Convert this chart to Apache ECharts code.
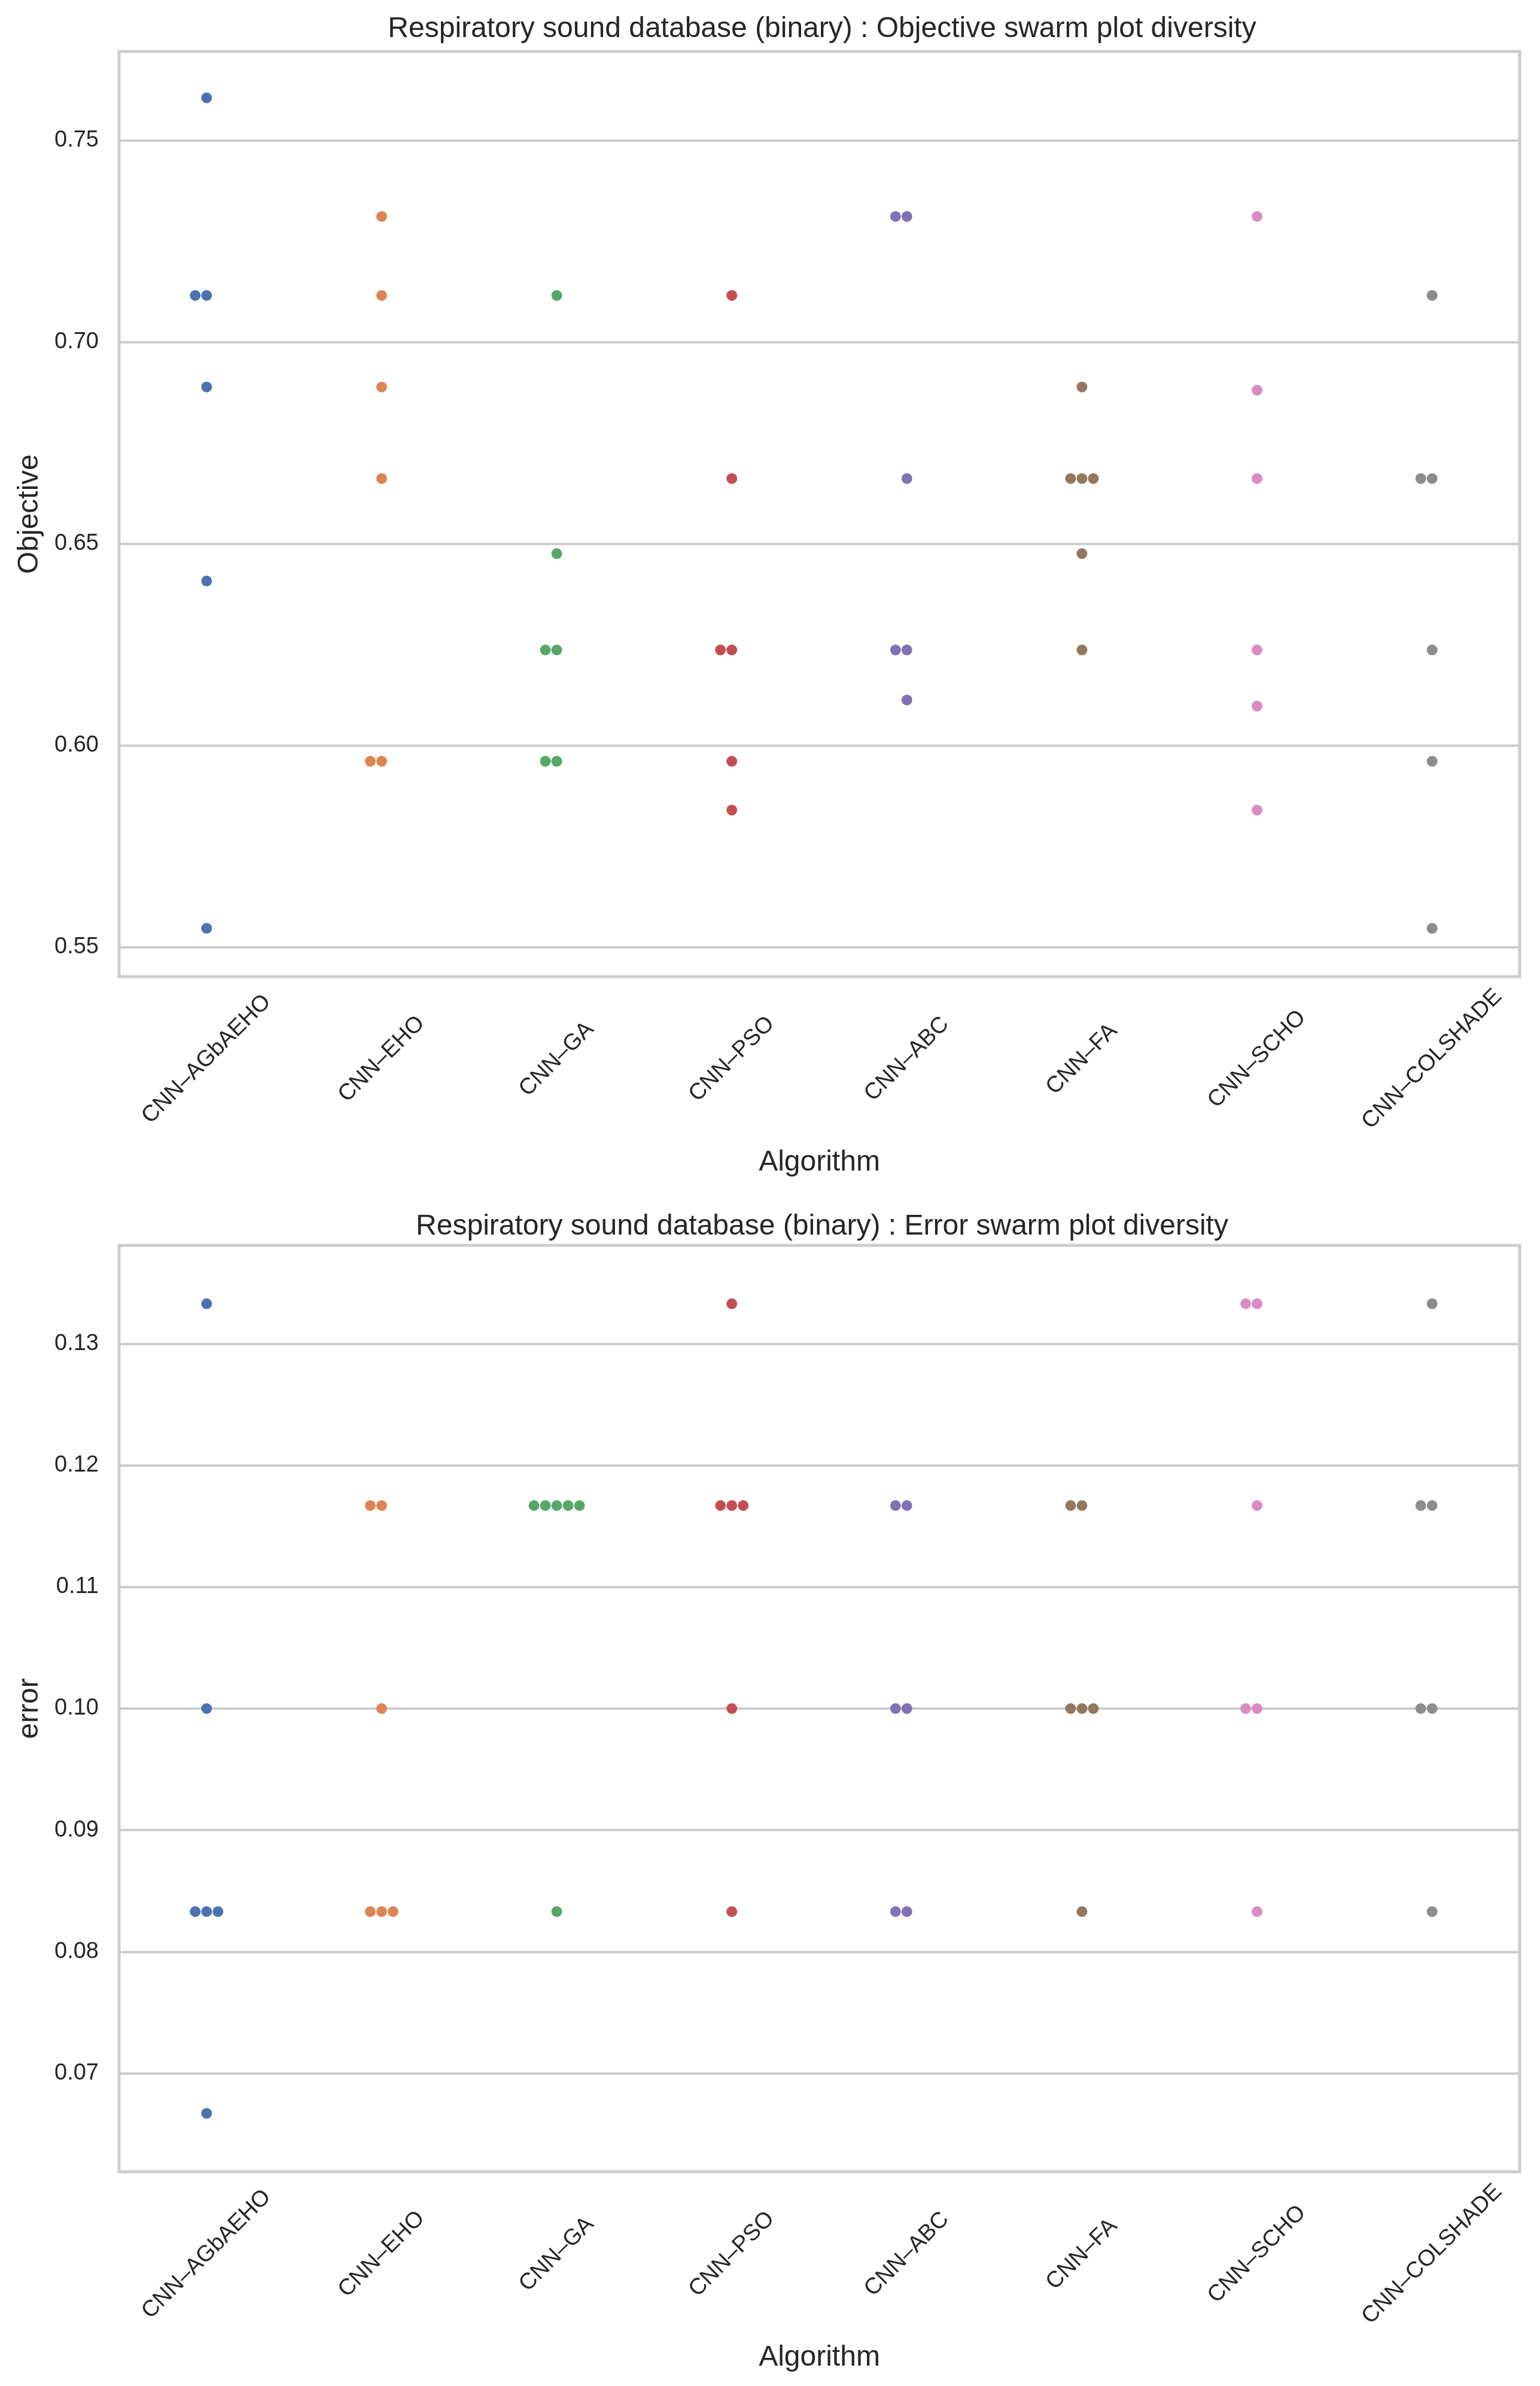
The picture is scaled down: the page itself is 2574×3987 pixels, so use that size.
<!DOCTYPE html>
<html>
<head>
<meta charset="utf-8">
<script src="https://cdn.jsdelivr.net/npm/echarts@6/dist/echarts.min.js"></script>
<style>
html,body{margin:0;padding:0;background:#ffffff;}
#chart{width:2574px;height:3987px;}
</style>
</head>
<body>
<div id="chart"></div>
<script>
const algorithms = ['CNN–AGbAEHO','CNN–EHO','CNN–GA','CNN–PSO','CNN–ABC','CNN–FA','CNN–SCHO','CNN–COLSHADE'];
const colors = ['#4C72B0','#DD8452','#55A868','#C44E52','#8172B3','#937860','#DA8BC3','#8C8C8C'];

const objectiveTicks = [0.55, 0.60, 0.65, 0.70, 0.75];
const errorTicks = [0.07, 0.08, 0.09, 0.10, 0.11, 0.12, 0.13];

// Objective values per algorithm
const obj_AGbAEHO  = [0.7606, 0.7116, 0.7116, 0.6889, 0.6408, 0.5547];
const obj_EHO      = [0.7312, 0.7116, 0.6889, 0.6662, 0.5961, 0.5961];
const obj_GA       = [0.7116, 0.6476, 0.6237, 0.6237, 0.5961, 0.5961];
const obj_PSO      = [0.7116, 0.6662, 0.6237, 0.6237, 0.5961, 0.5840];
const obj_ABC      = [0.7312, 0.7312, 0.6662, 0.6237, 0.6237, 0.6113];
const obj_FA       = [0.6889, 0.6662, 0.6662, 0.6662, 0.6476, 0.6237];
const obj_SCHO     = [0.7312, 0.6881, 0.6662, 0.6237, 0.6098, 0.5840];
const obj_COLSHADE = [0.7116, 0.6662, 0.6662, 0.6237, 0.5961, 0.5547];

// Error values per algorithm
const err_AGbAEHO  = [0.1333, 0.1000, 0.0833, 0.0833, 0.0833, 0.0667];
const err_EHO      = [0.1167, 0.1167, 0.1000, 0.0833, 0.0833, 0.0833];
const err_GA       = [0.1167, 0.1167, 0.1167, 0.1167, 0.1167, 0.0833];
const err_PSO      = [0.1333, 0.1167, 0.1167, 0.1167, 0.1000, 0.0833];
const err_ABC      = [0.1167, 0.1167, 0.1000, 0.1000, 0.0833, 0.0833];
const err_FA       = [0.1167, 0.1167, 0.1000, 0.1000, 0.1000, 0.0833];
const err_SCHO     = [0.1333, 0.1333, 0.1167, 0.1000, 0.1000, 0.0833];
const err_COLSHADE = [0.1333, 0.1167, 0.1167, 0.1000, 0.1000, 0.0833];

const objectiveData = [obj_AGbAEHO, obj_EHO, obj_GA, obj_PSO, obj_ABC, obj_FA, obj_SCHO, obj_COLSHADE];
const errorData = [err_AGbAEHO, err_EHO, err_GA, err_PSO, err_ABC, err_FA, err_SCHO, err_COLSHADE];

const TEXT = '#262626';
const GRIDC = '#cccccc';
const FONT = 'Liberation Sans';
const STEP = 19;

function swarm(vals, catIdx) {
  const seen = {};
  return vals.map(v => {
    const key = v.toFixed(4);
    const k = seen[key] || 0;
    seen[key] = k + 1;
    const m = k === 0 ? 0 : (k % 2 === 1 ? -Math.ceil(k / 2) : k / 2);
    return { value: [catIdx, v], symbolOffset: [m * STEP, 0] };
  });
}

function axesFor(gi, name, min, max, ticks) {
  const x = {
    type: 'category', gridIndex: gi, data: algorithms, boundaryGap: true,
    axisLine: { show: false }, axisTick: { show: false }, splitLine: { show: false },
    axisLabel: { interval: 0, rotate: 45, align: 'center', verticalAlign: 'middle', margin: 138,
      color: TEXT, fontSize: 38, fontFamily: FONT },
    name: 'Algorithm', nameLocation: 'middle', nameGap: 287,
    nameTextStyle: { color: TEXT, fontSize: 48, fontFamily: FONT }
  };
  const y = {
    type: 'value', gridIndex: gi, min: min, max: max,
    axisLine: { show: false }, axisTick: { show: false }, splitLine: { show: false },
    axisLabel: { customValues: ticks, margin: 34, color: TEXT, fontSize: 38, fontFamily: FONT,
      formatter: v => v.toFixed(2) },
    name: name, nameLocation: 'middle', nameGap: 125,
    nameTextStyle: { color: TEXT, fontSize: 48, fontFamily: FONT }
  };
  return [x, y];
}

const [x0, y0] = axesFor(0, 'Objective', 0.5427, 0.7721, objectiveTicks);
const [x1, y1] = axesFor(1, 'error', 0.0619, 0.1381, errorTicks);

const series = [];
[0, 1].forEach(gi => {
  const ticks = gi === 0 ? objectiveTicks : errorTicks;
  series.push({
    type: 'scatter', xAxisIndex: gi, yAxisIndex: gi, data: [], z: 1, silent: true,
    markLine: { silent: true, z: 1, symbol: 'none', label: { show: false },
      lineStyle: { color: GRIDC, width: 4, type: 'solid' },
      data: ticks.map(t => ({ yAxis: t })) }
  });
  const src = gi === 0 ? objectiveData : errorData;
  src.forEach((vals, i) => {
    series.push({
      type: 'scatter', name: algorithms[i], xAxisIndex: gi, yAxisIndex: gi, z: 6,
      symbol: 'circle', symbolSize: 18,
      itemStyle: { color: colors[i], opacity: 1 },
      data: swarm(vals, i)
    });
  });
});

const chart = echarts.init(document.getElementById('chart'), null, { renderer: 'canvas' });
chart.setOption({
  backgroundColor: '#ffffff',
  animation: false,
  textStyle: { fontFamily: FONT },
  title: [
    { text: 'Respiratory sound database (binary) : Objective swarm plot diversity', left: 1369, textAlign: 'center', top: 20,
      textStyle: { color: TEXT, fontSize: 48, fontWeight: 'normal', fontFamily: FONT } },
    { text: 'Respiratory sound database (binary) : Error swarm plot diversity', left: 1369, textAlign: 'center', top: 2021,
      textStyle: { color: TEXT, fontSize: 48, fontWeight: 'normal', fontFamily: FONT } }
  ],
  grid: [
    { left: 199, right: 34, top: 86, height: 1546, show: true, borderColor: GRIDC, borderWidth: 5, backgroundColor: '#ffffff' },
    { left: 199, right: 34, top: 2081, height: 1548, show: true, borderColor: GRIDC, borderWidth: 5, backgroundColor: '#ffffff' }
  ],
  xAxis: [x0, x1],
  yAxis: [y0, y1],
  series: series
});
</script>
</body>
</html>
